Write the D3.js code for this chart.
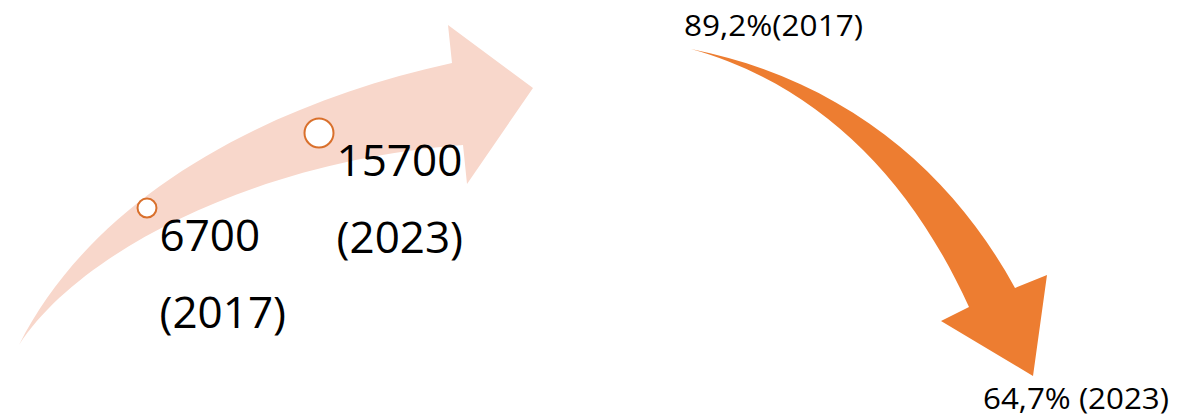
<!DOCTYPE html>
<html>
<head>
<meta charset="utf-8">
<script src="https://cdn.jsdelivr.net/npm/d3@7"></script>
<style>
  html, body { margin: 0; padding: 0; background: #ffffff; }
  svg { display: block; }
  text { font-family: "Open Sans", "Noto Sans", sans-serif; fill: #000; }
</style>
</head>
<body>
<script>
// ---- data ----
const years = ["2017", "2023"];
const counts = [6700, 15700];          // left panel values
const shares = [89.2, 64.7];           // right panel values (%)
const countLabels = ["6700", "15700"];
const yearLabels = ["(2017)", "(2023)"];
const shareLabels = ["89,2%(2017)", "64,7% (2023)"];

const W = 1189, H = 418;
const svg = d3.select("body").append("svg").attr("width", W).attr("height", H);

// ---- decorative arrows (geometry only) ----
const leftArrow = d3.path();
leftArrow.moveTo(19, 345);
leftArrow.bezierCurveTo(89, 205, 252, 107, 452, 63);
leftArrow.lineTo(448, 25);
leftArrow.lineTo(533, 88);
leftArrow.lineTo(467, 184);
leftArrow.lineTo(463, 145);
leftArrow.bezierCurveTo(260, 160, 80, 250, 19, 345);
leftArrow.closePath();
svg.append("path").attr("d", leftArrow.toString()).attr("fill", "#F8D7CB");

const rightArrow = d3.path();
rightArrow.moveTo(691, 49);
rightArrow.bezierCurveTo(851, 81, 955, 178, 1015, 288);
rightArrow.lineTo(1047, 275);
rightArrow.lineTo(1033, 376);
rightArrow.lineTo(941, 321);
rightArrow.lineTo(969, 307);
rightArrow.bezierCurveTo(909, 175, 816, 84, 691, 49);
rightArrow.closePath();
svg.append("path").attr("d", rightArrow.toString()).attr("fill", "#ED7D31");

// ---- left panel: counts ----
const xL = d3.scalePoint().domain(years).range([147, 319]);
const yL = d3.scaleLinear().domain([6700, 15700]).range([208, 133]);
const rL = d3.scaleSqrt().domain([0, 15700]).range([0, 14.5]);

const leftData = years.map((y, i) => ({ year: y, value: counts[i], label: countLabels[i], yl: yearLabels[i] }));

svg.selectAll("circle.pt").data(leftData).join("circle")
  .attr("class", "pt")
  .attr("cx", d => xL(d.year))
  .attr("cy", d => yL(d.value))
  .attr("r", d => rL(d.value))
  .attr("fill", "#ffffff")
  .attr("stroke", "#D9702C")
  .attr("stroke-width", 2);

const lg = svg.selectAll("g.lbl").data(leftData).join("g").attr("class", "lbl");
lg.append("text")
  .attr("x", d => xL(d.year) + rL(d.value) + 3)
  .attr("y", d => yL(d.value) + 43)
  .attr("font-size", 44)
  .text(d => d.label);
lg.append("text")
  .attr("x", d => xL(d.year) + rL(d.value) + 3)
  .attr("y", d => yL(d.value) + 120)
  .attr("font-size", 44)
  .text(d => d.yl);

// ---- right panel: shares ----
const xR = d3.scalePoint().domain(years).range([684, 983]);
const yR = d3.scaleLinear().domain([64.7, 89.2]).range([409, 36]);
const rightData = years.map((y, i) => ({ year: y, value: shares[i], label: shareLabels[i] }));

svg.selectAll("text.share").data(rightData).join("text")
  .attr("class", "share")
  .attr("x", d => xR(d.year))
  .attr("y", d => yR(d.value))
  .attr("font-size", 30)
  .attr("textLength", (d, i) => i === 0 ? 179 : 186)
  .attr("lengthAdjust", "spacingAndGlyphs")
  .text(d => d.label);
</script>
</body>
</html>
